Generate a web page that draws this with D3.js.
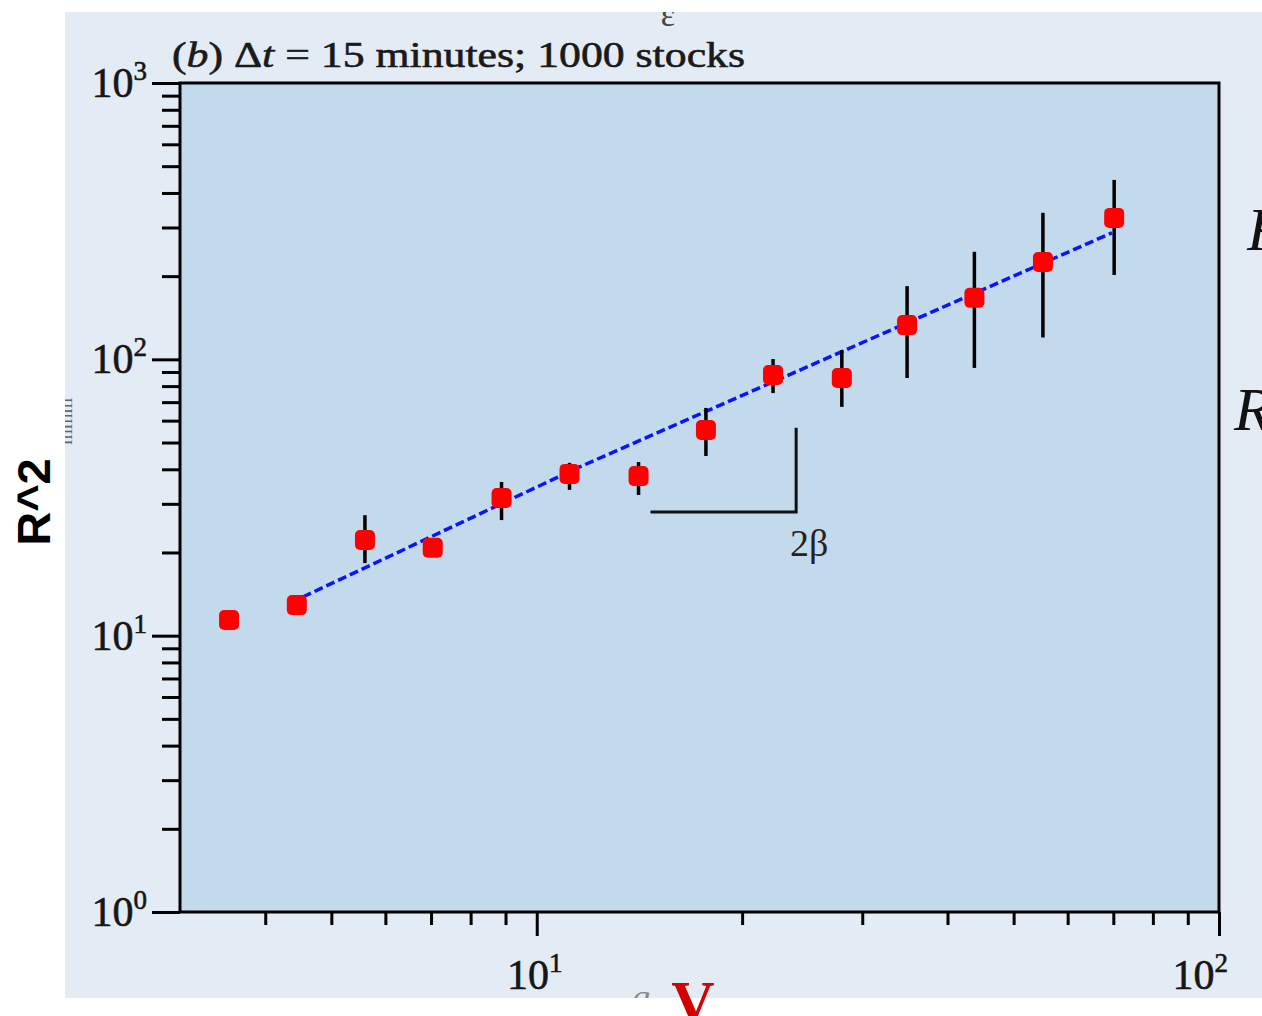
<!DOCTYPE html>
<html>
<head>
<meta charset="utf-8">
<script src="https://cdn.jsdelivr.net/npm/d3@7"></script>
<style>
  html, body { margin: 0; padding: 0; background: #fff; }
  svg { display: block; }
  .tick line { stroke: #000; stroke-width: 3; }
</style>
</head>
<body>
<div id="chart"></div>
<script>
// values
const qValues = [3.54, 4.45, 5.60, 7.04, 8.88, 11.17, 14.1, 17.7, 22.2, 28.0, 34.9, 43.8, 55.2, 70.2];
const r2Values = [11.4, 12.9, 22.2, 20.8, 31.5, 38.5, 37.8, 55.5, 87.8, 85.6, 133, 167, 225, 325];
const r2Low = [11.4, 12.9, 18.3, 19.8, 26.2, 33.7, 32.3, 44.7, 75.5, 67.3, 85.6, 93.1, 120, 202];
const r2High = [11.4, 12.9, 27.3, 22.0, 36.0, 42.2, 42.5, 66.7, 100.3, 108, 184, 245, 339, 446];

const fitQ = [4.54, 11.56, 69.7];
const fitR2 = [13.8, 40.8, 287];

const slopeQ = [14.68, 24.0, 24.0];
const slopeR2 = [28.0, 28.0, 56.5];

const xMajor = [10, 100];
const xMinor = [4, 5, 6, 7, 8, 9, 20, 30, 40, 50, 60, 70, 80, 90];
const yMajor = [1, 10, 100, 1000];
const yMinor = [2, 3, 4, 5, 6, 7, 8, 9, 20, 30, 40, 50, 60, 70, 80, 90,
                200, 300, 400, 500, 600, 700, 800, 900];

const W = 1262, H = 1016;
const serif = '"Liberation Serif", "Times New Roman", serif';

const svg = d3.select('#chart').append('svg')
    .attr('width', W)
    .attr('height', H);

const x = d3.scaleLog().domain([3, 100]).range([180, 1219]);
const y = d3.scaleLog().domain([1, 1000]).range([912, 83]);

svg.append('defs').append('clipPath').attr('id', 'panel')
    .append('rect').attr('x', 65).attr('y', 12).attr('width', W - 65).attr('height', 986);

// scanned page background
svg.append('rect')
    .attr('x', 65).attr('y', 12)
    .attr('width', W - 65).attr('height', 986)
    .attr('fill', '#e3ebf5');

// page fragments cut by the crop
const frag = svg.append('g').attr('clip-path', 'url(#panel)')
    .attr('font-family', serif).attr('fill', '#333');
frag.append('text').attr('x', 668).attr('y', 26).attr('font-size', 34)
    .attr('text-anchor', 'middle').attr('fill', '#444').text('ε');
frag.append('text').attr('transform', 'translate(72,398) rotate(-90)')
    .attr('font-size', 20).attr('text-anchor', 'end').attr('fill', '#666').text('mmm');
frag.append('text').attr('x', 641).attr('y', 1009).attr('font-size', 36)
    .attr('font-style', 'italic').attr('fill', '#888').attr('text-anchor', 'middle').text('q');
frag.append('text').attr('x', 1234).attr('y', 430).attr('font-size', 62)
    .attr('font-style', 'italic').attr('fill', '#111').text('R');
frag.append('text').attr('x', 1247).attr('y', 250).attr('font-size', 62)
    .attr('font-style', 'italic').attr('fill', '#111').text('R');

// plot area
svg.append('rect')
    .attr('x', x.range()[0]).attr('y', y.range()[1])
    .attr('width', x.range()[1] - x.range()[0])
    .attr('height', y.range()[0] - y.range()[1])
    .attr('fill', '#c3daed');

// axes
const gx = svg.append('g').attr('transform', `translate(0,${y.range()[0]})`);
gx.append('g').call(d3.axisBottom(x).tickValues(xMajor).tickSize(24).tickSizeOuter(0).tickFormat(''));
gx.append('g').call(d3.axisBottom(x).tickValues(xMinor).tickSize(13).tickSizeOuter(0).tickFormat(''));
const gy = svg.append('g').attr('transform', `translate(${x.range()[0]},0)`);
gy.append('g').call(d3.axisLeft(y).tickValues(yMajor).tickSize(28).tickSizeOuter(0).tickFormat(''));
gy.append('g').call(d3.axisLeft(y).tickValues(yMinor).tickSize(18).tickSizeOuter(0).tickFormat(''));
svg.selectAll('.domain').remove();

// frame
svg.append('rect')
    .attr('x', x.range()[0]).attr('y', y.range()[1])
    .attr('width', x.range()[1] - x.range()[0])
    .attr('height', y.range()[0] - y.range()[1])
    .attr('fill', 'none').attr('stroke', '#000').attr('stroke-width', 3);

// tick labels
function powerLabel(sel, v) {
    sel.append('tspan').text('10');
    sel.append('tspan').attr('font-size', 27).attr('dy', -17).text(String(Math.round(Math.log10(v))));
}
xMajor.forEach((v, i) => {
    const last = i === xMajor.length - 1;
    svg.append('text')
        .attr('x', last ? x(v) + 9 : x(v) - 2).attr('y', 989)
        .attr('font-family', serif).attr('font-size', 42).attr('fill', '#161616')
        .attr('stroke', '#161616').attr('stroke-width', 0.6)
        .attr('text-anchor', last ? 'end' : 'middle')
        .call(powerLabel, v);
});
yMajor.forEach(v => {
    svg.append('text')
        .attr('x', 147).attr('y', y(v) + 14)
        .attr('font-family', serif).attr('font-size', 42).attr('fill', '#161616')
        .attr('stroke', '#161616').attr('stroke-width', 0.6)
        .attr('text-anchor', 'end')
        .call(powerLabel, v);
});

// title
const title = svg.append('text')
    .attr('x', 172).attr('y', 67)
    .attr('font-family', serif).attr('font-size', 36).attr('fill', '#1a1a1a')
    .attr('stroke', '#1a1a1a').attr('stroke-width', 0.6)
    .attr('textLength', 573).attr('lengthAdjust', 'spacingAndGlyphs');
title.append('tspan').text('(');
title.append('tspan').attr('font-style', 'italic').text('b');
title.append('tspan').text(') Δ');
title.append('tspan').attr('font-style', 'italic').text('t');
title.append('tspan').text(' = 15 minutes; 1000 stocks');

// fit line
const line = d3.line().x(d => x(d[0])).y(d => y(d[1]));
svg.append('path')
    .datum(fitQ.map((q, i) => [q, fitR2[i]]))
    .attr('d', line)
    .attr('fill', 'none').attr('stroke', '#0a14ff')
    .attr('stroke-width', 3.5).attr('stroke-dasharray', '9,4');

// slope guide
svg.append('path')
    .datum(slopeQ.map((q, i) => [q, slopeR2[i]]))
    .attr('d', line)
    .attr('fill', 'none').attr('stroke', '#111').attr('stroke-width', 3);
svg.append('text')
    .attr('x', x(slopeQ[2]) + 13).attr('y', y(slopeR2[0]) + 44)
    .attr('font-family', serif).attr('font-size', 38).attr('fill', '#222')
    .attr('text-anchor', 'middle').text('2β');

// error bars
const pts = qValues.map((q, i) => ({ q, r: r2Values[i], lo: r2Low[i], hi: r2High[i] }));
svg.selectAll('.err')
    .data(pts)
    .enter().append('line')
    .attr('class', 'err')
    .attr('x1', d => x(d.q)).attr('x2', d => x(d.q))
    .attr('y1', d => y(d.lo)).attr('y2', d => y(d.hi))
    .attr('stroke', '#000').attr('stroke-width', 3.5);

// markers
svg.selectAll('.pt')
    .data(pts)
    .enter().append('rect')
    .attr('class', 'pt')
    .attr('x', d => x(d.q) - 10).attr('y', d => y(d.r) - 10)
    .attr('width', 20).attr('height', 20).attr('rx', 5)
    .attr('fill', '#ff0000');

// overlay labels
svg.append('text')
    .attr('transform', 'translate(50,502) rotate(-90)')
    .attr('font-family', '"Liberation Sans", Arial, sans-serif')
    .attr('font-weight', 'bold').attr('font-size', 47)
    .attr('text-anchor', 'middle').attr('fill', '#000')
    .text('R^2');
svg.append('text')
    .attr('x', 693).attr('y', 1022)
    .attr('font-family', serif).attr('font-weight', 'bold').attr('font-size', 60)
    .attr('text-anchor', 'middle').attr('fill', '#d40000')
    .text('V');
</script>
</body>
</html>
